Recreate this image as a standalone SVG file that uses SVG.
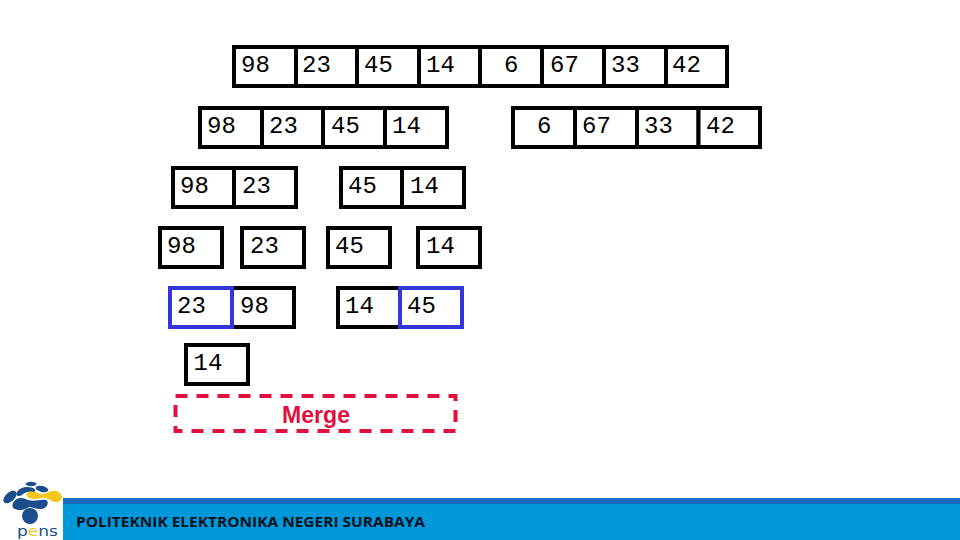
<svg xmlns="http://www.w3.org/2000/svg" width="960" height="540" viewBox="0 0 960 540">
<style>
.c{fill:#fff;stroke:#000;stroke-width:4}
.b{fill:none;stroke:#3535DC;stroke-width:4}
.t{font-family:"Liberation Mono",monospace;font-size:24px;fill:#000}
.logo{fill:#1B4F8C}
</style>
<rect width="960" height="540" fill="#fff"/>
<g id="row1">
<rect class="c" x="234" y="47" width="62" height="39"/><rect class="c" x="296" y="47" width="61" height="39"/><rect class="c" x="357" y="47" width="62" height="39"/><rect class="c" x="419" y="47" width="61" height="39"/><rect class="c" x="480" y="47" width="62" height="39"/><rect class="c" x="542" y="47" width="62" height="39"/><rect class="c" x="604" y="47" width="62" height="39"/><rect class="c" x="666" y="47" width="61" height="39"/>
<text class="t" x="241" y="72">98</text><text class="t" x="302" y="72">23</text><text class="t" x="364" y="72">45</text><text class="t" x="426" y="72">14</text><text class="t" x="504" y="72">6</text><text class="t" x="550" y="72">67</text><text class="t" x="611" y="72">33</text><text class="t" x="672" y="72">42</text>
</g>
<g id="row2-left">
<rect class="c" x="200" y="108" width="62" height="39"/><rect class="c" x="262" y="108" width="61" height="39"/><rect class="c" x="323" y="108" width="62" height="39"/><rect class="c" x="385" y="108" width="62" height="39"/>
<text class="t" x="207" y="133">98</text><text class="t" x="269" y="133">23</text><text class="t" x="331" y="133">45</text><text class="t" x="392" y="133">14</text>
</g>
<g id="row2-right">
<rect class="c" x="513" y="108" width="62" height="39"/><rect class="c" x="575" y="108" width="62" height="39"/><rect class="c" x="637" y="108" width="61.5" height="39"/><rect class="c" x="698.500" y="108" width="61.500" height="39"/>
<text class="t" x="537" y="133">6</text><text class="t" x="582" y="133">67</text><text class="t" x="644" y="133">33</text><text class="t" x="706" y="133">42</text>
</g>
<g id="row3-left">
<rect class="c" x="173" y="168" width="61" height="39"/><rect class="c" x="234" y="168" width="62" height="39"/>
<text class="t" x="180" y="193">98</text><text class="t" x="242" y="193">23</text>
</g>
<g id="row3-right">
<rect class="c" x="341" y="168" width="61" height="39"/><rect class="c" x="402" y="168" width="62" height="39"/>
<text class="t" x="348" y="193">45</text><text class="t" x="410" y="193">14</text>
</g>
<g id="row4-98"><rect class="c" x="160" y="228" width="62" height="39"/><text class="t" x="167" y="253">98</text></g>
<g id="row4-23"><rect class="c" x="242" y="228" width="62" height="39"/><text class="t" x="250" y="253">23</text></g>
<g id="row4-45"><rect class="c" x="328" y="228" width="62" height="39"/><text class="t" x="335" y="253">45</text></g>
<g id="row4-14"><rect class="c" x="418" y="228" width="62" height="39"/><text class="t" x="426" y="253">14</text></g>
<g id="row5-left">
<rect class="c" x="232" y="288" width="62" height="39"/><rect class="b" x="170" y="288" width="62" height="39"/>
<text class="t" x="177" y="313">23</text><text class="t" x="240" y="313">98</text>
</g>
<g id="row5-right">
<rect class="c" x="338" y="288" width="62" height="39"/><rect class="b" x="400" y="288" width="62" height="39"/>
<text class="t" x="345" y="313">14</text><text class="t" x="407" y="313">45</text>
</g>
<g id="temp-14"><rect class="c" x="186" y="345" width="62" height="39"/><text class="t" x="193.500" y="370">14</text></g>
<g id="merge">
<rect x="175.500" y="396" width="280" height="35" fill="none" stroke="#E0103F" stroke-width="4" stroke-dasharray="12 9"/>
<text x="316" y="422.500" text-anchor="middle" font-family="'Liberation Sans',Arial,sans-serif" font-size="24" font-weight="700" fill="#E0103F" textLength="68" lengthAdjust="spacingAndGlyphs">Merge</text>
</g>
<g id="footer">
<rect x="63" y="498" width="897" height="42" fill="#0098D8"/>
<rect x="63" y="498" width="897" height="6" fill="#1A6DBE"/>
<text x="76" y="527" font-family="'Open Sans',sans-serif" font-weight="700" font-size="15" fill="#08101C" textLength="349" lengthAdjust="spacingAndGlyphs">POLITEKNIK ELEKTRONIKA NEGERI SURABAYA</text>
</g>
<g id="logo">
<ellipse class="logo" cx="31" cy="484" rx="5.500" ry="2.200"/>
<path class="logo" d="M17 492C20 487 27 486 33 488C37 490 36 492 32 492C28 491 24 493 22 495C19 497 15 496 17 492Z"/>
<ellipse class="logo" cx="10" cy="497" rx="8" ry="4.500" transform="rotate(-42 10 497)"/>
<ellipse class="logo" cx="42" cy="489" rx="6.500" ry="3" transform="rotate(12 42 489)"/>
<path class="logo" d="M13 503C16 497 22 497 28 500C34 502 40 499 46 500C50 502 47 509 40 509C35 509 32 507 29 507C25 510 19 511 15 509C12 508 12 505 13 503Z"/>
<path fill="#F2C81E" d="M27 493C31 490 36 492 40 494C44 495 47 492 52 491C58 490 62 494 62 498C61 503 54 503 50 500C46 497 42 498 36 499C30 500 25 496 27 493Z"/>
<circle class="logo" cx="30" cy="516" r="8"/>
<text x="17" y="536" font-family="'DejaVu Sans',sans-serif" font-size="14" fill="#1B4F8C" textLength="41" lengthAdjust="spacingAndGlyphs">p<tspan fill="#F2C81E">e</tspan>ns</text>
</g>
</svg>
